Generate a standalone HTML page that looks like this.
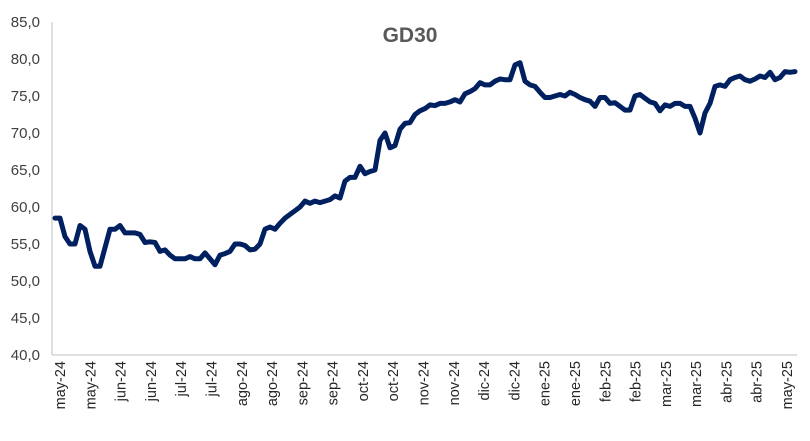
<!DOCTYPE html>
<html><head><meta charset="utf-8"><style>
body{margin:0;background:#fff;}
svg{display:block;font-family:"Liberation Sans",sans-serif;}
</style></head><body>
<svg id="chart" width="810" height="441" xmlns="http://www.w3.org/2000/svg">
<text x="410" y="42" text-anchor="middle" font-size="21" font-weight="bold" fill="#595959">GD30</text>
<g id="yaxis"></g>
<g id="xaxis"></g>
<g id="plot"></g>
</svg>
<script>
const values=[58.5,58.5,56,55,55,57.5,57,54,52,52,54.5,57,57,57.5,56.5,56.5,56.5,56.3,55.2,55.3,55.2,54,54.2,53.5,53,53,53,53.3,53,53,53.8,53,52.2,53.5,53.7,54,55,55,54.8,54.2,54.3,55,57,57.3,57,57.8,58.5,59,59.5,60,60.8,60.5,60.8,60.6,60.8,61,61.5,61.2,63.5,64,64,65.5,64.5,64.8,65,69,70,68,68.3,70.5,71.3,71.4,72.5,73,73.3,73.8,73.7,74,74,74.2,74.5,74.2,75.3,75.6,76,76.8,76.5,76.5,77,77.3,77.2,77.2,79.2,79.5,77,76.5,76.3,75.5,74.8,74.8,75,75.2,75,75.5,75.2,74.8,74.5,74.3,73.6,74.8,74.8,74,74.1,73.6,73.1,73.1,75,75.2,74.7,74.2,74,73,73.8,73.6,74,74,73.6,73.6,72,70,72.7,74,76.3,76.5,76.3,77.2,77.5,77.7,77.2,77,77.3,77.7,77.5,78.2,77.2,77.5,78.3,78.2,78.3];
const yTicks=[40,45,50,55,60,65,70,75,80,85];
const xLabels=["may-24","may-24","jun-24","jun-24","jul-24","jul-24","ago-24","ago-24","sep-24","sep-24","oct-24","oct-24","nov-24","nov-24","dic-24","dic-24","ene-25","ene-25","feb-25","feb-25","mar-25","mar-25","abr-25","abr-25","may-25"];
const NS="http://www.w3.org/2000/svg";
const x0=55,x1=795,yTop=22,yBot=355,vMin=40,vMax=85;
function yS(v){return yBot-(v-vMin)/(vMax-vMin)*(yBot-yTop);}
function xS(i){return x0+i*(x1-x0)/(values.length-1);}
function mk(t,a,p){const e=document.createElementNS(NS,t);for(const k in a)e.setAttribute(k,a[k]);p.appendChild(e);return e;}
const ya=document.getElementById('yaxis'),xa=document.getElementById('xaxis'),pl=document.getElementById('plot');
const axl=mk('line',{x1:52,y1:yTop,x2:52,y2:yBot,stroke:'#bfbfbf','stroke-width':1},ya);


yTicks.forEach(v=>{
 const t=mk('text',{x:40,y:yS(v)+5,'text-anchor':'end','font-size':15,fill:'#404040'},ya);
 t.textContent=v.toFixed(1).replace('.',',');
 
 
});
const bl=mk('line',{x1:52,y1:yBot,x2:797,y2:yBot,stroke:'#bfbfbf','stroke-width':1},xa);


const lx0=60,lx1=787;
xLabels.forEach((l,i)=>{
 const x=lx0+i*(lx1-lx0)/(xLabels.length-1);
 const t=mk('text',{x:0,y:0,'text-anchor':'end','font-size':14.5,fill:'#262626',transform:`translate(${x+5},361) rotate(-90)`},xa);
 t.textContent=l;
 
 
});
const d=values.map((v,i)=>(i?'L':'M')+xS(i).toFixed(1)+','+yS(v).toFixed(1)).join(' ');
const p=mk('path',{d:d,fill:'none',stroke:'#002060','stroke-width':5,'stroke-linejoin':'round','stroke-linecap':'round'},pl);


</script>
</body></html>
